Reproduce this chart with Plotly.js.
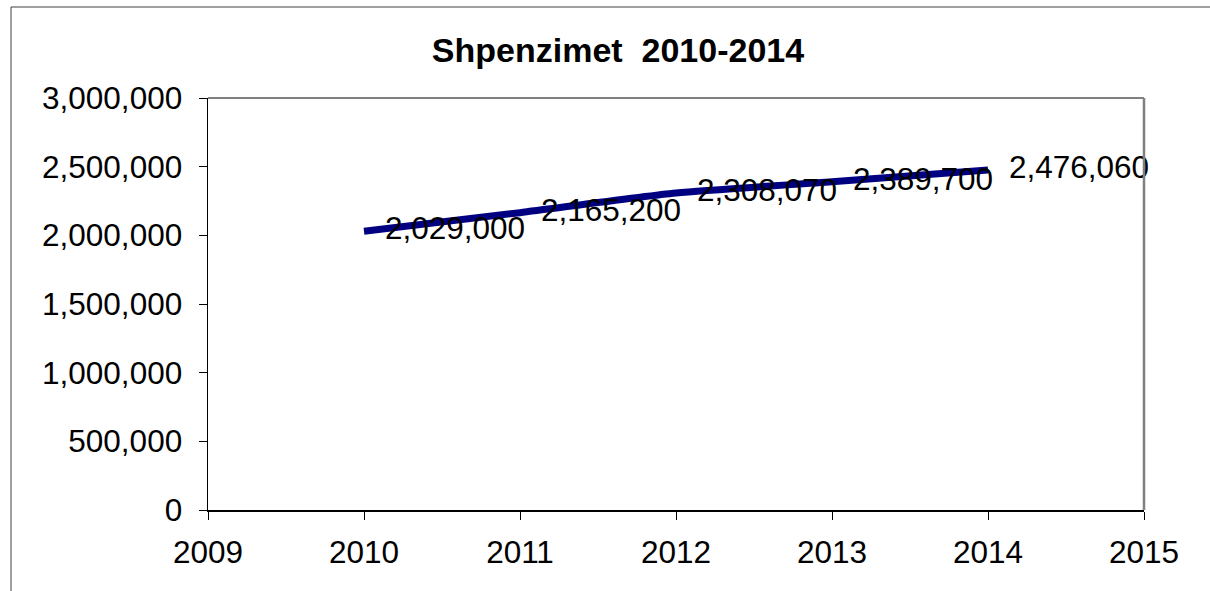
<!DOCTYPE html>
<html>
<head>
<meta charset="utf-8">
<script src="https://cdn.plot.ly/plotly-3.0.1.min.js"></script>
<style>
  html, body { margin: 0; padding: 0; background: #ffffff; }
  #chart { width: 1210px; height: 591px; }
</style>
</head>
<body>
<div id="chart"></div>
<script>
const years = [2010, 2011, 2012, 2013, 2014];
const spending = [2029000, 2165200, 2308070, 2389700, 2476060];
const labels = ["2,029,000", "2,165,200", "2,308,070", "2,389,700", "2,476,060"];
const chartTitle = "Shpenzimet\u00a0 2010-2014";

const L = 208, R = 1144, T = 98, B = 510, W = 1210, H = 591;
const px = v => (v - L) / (R - L);
const py = v => (B - v) / (B - T);
const FONT = 'Liberation Sans, Arial, sans-serif';

const trace = {
  x: years,
  y: spending,
  text: labels,
  mode: 'lines+markers+text',
  textposition: 'middle right',
  textfont: { family: FONT, size: 31.5, color: '#000000' },
  line: { color: '#000080', width: 7, shape: 'spline', smoothing: 0.6 },
  marker: { size: 32, opacity: 0, color: '#000080' },
  cliponaxis: false,
  hoverinfo: 'x+y'
};

const layout = {
  width: W, height: H,
  margin: { l: L, r: W - R, t: T, b: H - B, pad: 0 },
  paper_bgcolor: '#ffffff',
  plot_bgcolor: '#ffffff',
  showlegend: false,
  font: { family: FONT, color: '#000000' },
  title: {
    text: '<b>' + chartTitle + '</b>',
    font: { family: FONT, size: 34, color: '#000000' },
    x: 618 / W, xref: 'container', xanchor: 'center',
    y: 1 - 50 / H, yref: 'container', yanchor: 'middle'
  },
  xaxis: {
    range: [2009, 2015],
    tickmode: 'linear', tick0: 2009, dtick: 1,
    showgrid: false, zeroline: false,
    showline: true, linecolor: '#000000', linewidth: 1.5,
    ticks: 'outside', ticklen: 8, tickwidth: 1, tickcolor: '#000000',
    tickfont: { family: FONT, size: 31.5, color: '#000000' },
    ticklabelstandoff: 6
  },
  yaxis: {
    range: [0, 3000000],
    tickmode: 'linear', tick0: 0, dtick: 500000,
    tickformat: ',d',
    showgrid: false, zeroline: false,
    showline: true, linecolor: '#000000', linewidth: 1.5,
    ticks: 'outside', ticklen: 8, tickwidth: 1, tickcolor: '#000000',
    tickfont: { family: FONT, size: 31.5, color: '#000000' },
    ticklabelstandoff: 10
  },
  shapes: [
    { type: 'line', xref: 'paper', yref: 'paper', x0: 0, x1: 1, y0: 1, y1: 1,
      line: { color: '#808080', width: 2 } },
    { type: 'line', xref: 'paper', yref: 'paper', x0: 1, x1: 1, y0: 0, y1: 1,
      line: { color: '#808080', width: 2.5 } },
    { type: 'rect', xref: 'paper', yref: 'paper',
      x0: px(11), x1: px(1220), y0: py(600), y1: py(7),
      line: { color: '#404040', width: 1 } }
  ]
};

Plotly.newPlot('chart', [trace], layout, { displayModeBar: false, staticPlot: true });
</script>
</body>
</html>
